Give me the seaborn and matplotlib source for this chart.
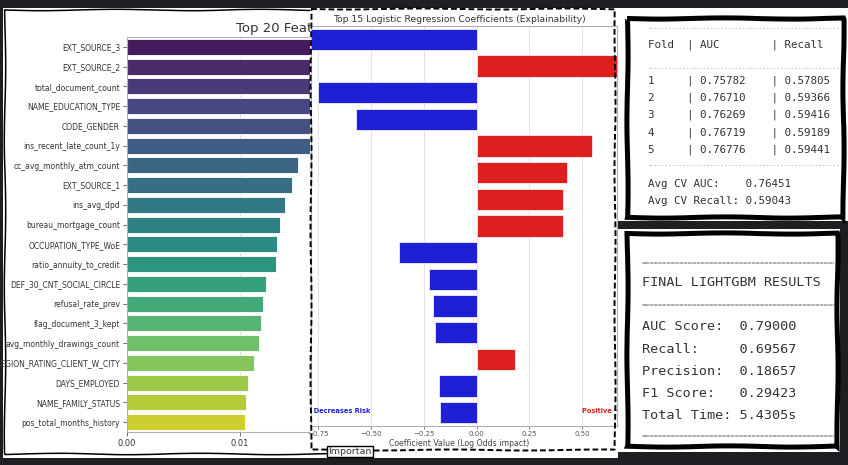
import numpy as np
import pandas as pd
import matplotlib
matplotlib.use("Agg")
import matplotlib.pyplot as plt
import seaborn as sns
from matplotlib.patches import Rectangle

# ---------------- data ----------------
features = ["EXT_SOURCE_3", "EXT_SOURCE_2", "total_document_count", "NAME_EDUCATION_TYPE",
            "CODE_GENDER", "ins_recent_late_count_1y", "cc_avg_monthly_atm_count", "EXT_SOURCE_1",
            "ins_avg_dpd", "bureau_mortgage_count", "OCCUPATION_TYPE_WoE", "ratio_annuity_to_credit",
            "DEF_30_CNT_SOCIAL_CIRCLE", "refusal_rate_prev", "flag_document_3_kept",
            "avg_monthly_drawings_count", "REGION_RATING_CLIENT_W_CITY", "DAYS_EMPLOYED",
            "NAME_FAMILY_STATUS", "pos_total_months_history"]
importance = [0.0262, 0.0231, 0.0204, 0.0188, 0.0176, 0.0168, 0.01516, 0.01463, 0.01398, 0.01354,
              0.01330, 0.01321, 0.01230, 0.01206, 0.01183, 0.01165, 0.01121, 0.01071, 0.01056, 0.01047]
imp_ticks = [0.00, 0.01, 0.02, 0.03]

lr_features = ["EXT_SOURCE_3", "ins_recent_late_count_1y", "EXT_SOURCE_2", "EXT_SOURCE_1",
               "DEF_30_CNT_SOCIAL_CIRCLE", "REGION_RATING_CLIENT_W_CITY", "OCCUPATION_TYPE_WoE",
               "refusal_rate_prev", "NAME_EDUCATION_TYPE", "CODE_GENDER", "DAYS_EMPLOYED",
               "total_document_count", "flag_document_3_kept", "bureau_mortgage_count",
               "pos_total_months_history"]
lr_coefs = [-0.86, 0.74, -0.751, -0.571, 0.549, 0.430, 0.408, 0.408, -0.366, -0.224,
            -0.208, -0.197, 0.182, -0.176, -0.173]
lr_ticks = [-0.75, -0.50, -0.25, 0.00, 0.25, 0.50]

cv_folds = ["1", "2", "3", "4", "5"]
cv_auc = ["0.75782", "0.76710", "0.76269", "0.76719", "0.76776"]
cv_recall = ["0.57805", "0.59366", "0.59416", "0.59189", "0.59441"]
avg_cv_auc = "0.76451"
avg_cv_recall = "0.59043"

final_labels = ["AUC Score:", "Recall:", "Precision:", "F1 Score:", "Total Time:"]
final_values = ["0.79000", "0.69567", "0.18657", "0.29423", "5.4305s"]

# ---------------- style ----------------
W, H = 848, 465
DARK = "#1d1f23"
BLUE = "#1f1fd8"
RED = "#dc1f1f"
TXT = "#333333"
MONO = ["DejaVu Sans Mono"]

sns.set_theme(style="white")
plt.rcParams["font.family"] = ["DejaVu Sans"]

fig = plt.figure(figsize=(W / 100, H / 100), dpi=100)
fig.patch.set_facecolor(DARK)


def px_axes(x0, y0, x1, y1, z):
    return fig.add_axes([x0 / W, 1 - y1 / H, (x1 - x0) / W, (y1 - y0) / H], zorder=z)


def pixel_frame(ax, x0, y0, x1, y1):
    ax.set_xlim(x0, x1)
    ax.set_ylim(y1, y0)
    ax.axis("off")
    ax.patch.set_alpha(0)


# background layer
bg = px_axes(0, 0, W, H, 0)
pixel_frame(bg, 0, 0, W, H)
bg.add_patch(Rectangle((3, 8), 615, 450, fc="white", ec="none"))
bg.add_patch(Rectangle((618, 8), 230, 213, fc="white", ec="none"))
bg.add_patch(Rectangle((618, 229), 222, 223, fc="white", ec="none"))
lb = Rectangle((4.5, 10.5), 330, 443, fc="none", ec="black", lw=1.1)
lb.set_sketch_params(0.7, 160, 2)
bg.add_patch(lb)

# ---------------- left chart: feature importances ----------------
L_X0, L_X1, L_Y0, L_Y1 = 127, 480, 37, 432
ax1 = px_axes(L_X0, L_Y0, L_X1, L_Y1, 1)
df_imp = pd.DataFrame({"feature": features, "importance": importance})
sns.barplot(data=df_imp, x="importance", y="feature", hue="feature", palette="viridis",
            saturation=0.8, legend=False, ax=ax1, edgecolor="white", linewidth=0.6, width=0.8)
ax1.set_xlim(0, (L_X1 - L_X0) / 11300)
ax1.set_ylim(len(features) - 0.5, -0.5)
ax1.set_xticks(imp_ticks)
ax1.set_xticklabels([f"{t:.2f}" for t in imp_ticks])
ax1.grid(axis="x", linestyle="--", color="#d8d8d8", lw=0.7)
ax1.set_axisbelow(True)
for s in ax1.spines.values():
    s.set_color("#b0b0b0")
    s.set_linewidth(0.8)
ax1.tick_params(axis="both", labelsize=5.5, colors="#555555", labelcolor=TXT,
                length=3, width=0.6, pad=2, left=True, bottom=True)
ax1.tick_params(axis="x", labelsize=6)
ax1.set_xlabel("")
ax1.set_ylabel("")
ax1.text((236 - L_X0) / (L_X1 - L_X0), 1 + 9 / (L_Y1 - L_Y0),
         "Top 20 Feature Importances (LightGBM)", transform=ax1.transAxes,
         ha="left", va="center", fontsize=9.5, color=TXT)

# ---------------- middle panel: logistic regression coefficients ----------------
mid_bg = px_axes(0, 0, W, H, 2)
pixel_frame(mid_bg, 0, 0, W, H)
mid_bg.add_patch(Rectangle((310, 9), 307, 442, fc="white", ec="none"))

M_X0, M_X1, M_Y0, M_Y1 = 311, 617, 26, 426
ax2 = px_axes(M_X0, M_Y0, M_X1, M_Y1, 3)
df_lr = pd.DataFrame({"feature": lr_features, "coef": lr_coefs})
df_lr["direction"] = np.where(df_lr["coef"] < 0, "neg", "pos")
sns.barplot(data=df_lr, x="coef", y="feature", hue="direction",
            palette={"neg": BLUE, "pos": RED}, saturation=1, dodge=False, legend=False, ax=ax2,
            edgecolor="white", linewidth=0.5, width=0.8)
zero_px, unit_px = 476.5, 211.0
ax2.set_xlim((M_X0 - zero_px) / unit_px, (M_X1 - zero_px) / unit_px)
ax2.set_ylim(len(lr_features) - 0.5, -0.5)
ax2.set_xticks(lr_ticks)
ax2.set_xticklabels([f"{t:.2f}".replace("-", "\u2212") for t in lr_ticks])
ax2.grid(axis="x", linestyle="-", color="#e4e4e4", lw=0.7)
ax2.set_axisbelow(True)
for s in ax2.spines.values():
    s.set_color("#b0b0b0")
    s.set_linewidth(0.8)
ax2.tick_params(axis="x", labelsize=5, colors="#666666", labelcolor="#555555",
                length=2, width=0.6, pad=1.5, bottom=True)
ax2.tick_params(axis="y", left=False, labelleft=False)
ax2.set_ylabel("")
ax2.set_xlabel("Coefficient Value (Log Odds impact)", fontsize=5.6, color="#444444")
ax2.xaxis.set_label_coords((459 - M_X0) / (M_X1 - M_X0), -0.032)
ax2.text((306 - M_X0) / (M_X1 - M_X0), (M_Y1 - 411) / (M_Y1 - M_Y0), "\u2190 Decreases Risk",
         transform=ax2.transAxes, color=BLUE, fontweight="bold", fontsize=4.8,
         ha="left", va="center", clip_on=True)
ax2.text((582 - M_X0) / (M_X1 - M_X0), (M_Y1 - 411) / (M_Y1 - M_Y0), "Positive \u2192 Increases Risk",
         transform=ax2.transAxes, color=RED, fontweight="bold", fontsize=4.8,
         ha="left", va="center", clip_on=True)
fig.text(459 / W, 1 - 19.5 / H, "Top 15 Logistic Regression Coefficients (Explainability)",
         ha="center", va="center", fontsize=6.7, color=TXT, zorder=3)

# ---------------- right boxes ----------------
top = px_axes(630, 20, 840, 215, 4)
pixel_frame(top, 630, 20, 840, 215)
fs1 = 7.8
dash_kw = dict(fontsize=4.2, color="#7a7a7a", family=MONO, va="center", ha="left", clip_on=True)
txt1_kw = dict(fontsize=fs1, color=TXT, family=MONO, va="center", ha="left", clip_on=True)
top.text(648, 28.3, "-" * 80, **dash_kw)
top.text(648, 45, "Fold  | AUC        | Recall", **txt1_kw)
top.text(648, 68.5, "-" * 80, **dash_kw)
row_y = [80.3, 97.7, 115.0, 132.3, 149.3]
for f, a, r, y in zip(cv_folds, cv_auc, cv_recall, row_y):
    top.text(648, y, f"{f:<6}| {a:<11}| {r}", **txt1_kw)
top.text(648, 165.7, "-" * 80, **dash_kw)
top.text(648, 184.3, f"Avg CV AUC:    {avg_cv_auc}", **txt1_kw)
top.text(648, 201.3, f"Avg CV Recall: {avg_cv_recall}", **txt1_kw)

bot = px_axes(630, 236, 834, 443, 4)
pixel_frame(bot, 630, 236, 834, 443)
fs2 = 9.7
eq_kw = dict(fontsize=5.0, color="#7a7a7a", family=MONO, va="center", ha="left", clip_on=True)
txt2_kw = dict(fontsize=fs2, color=TXT, family=MONO, va="center", ha="left", clip_on=True)
bot.text(641.5, 263.3, "=" * 80, **eq_kw)
bot.text(641.5, 282.3, "FINAL LIGHTGBM RESULTS", **txt2_kw)
bot.text(641.5, 305, "=" * 80, **eq_kw)
final_y = [326.7, 349.0, 371.0, 393.3, 415.0]
for lab, val, y in zip(final_labels, final_values, final_y):
    bot.text(641.5, y, f"{lab:<12}{val}", **txt2_kw)
bot.text(641.5, 436.7, "=" * 80, **eq_kw)

# ---------------- overlay: borders and stray label ----------------
ov = px_axes(0, 0, W, H, 6)
pixel_frame(ov, 0, 0, W, H)
mb = Rectangle((311, 9.5), 304, 440.5, fc="none", ec="black", lw=1.4, ls=(0, (3, 1.5)))
mb.set_sketch_params(0.5, 160, 2)
ov.add_patch(mb)
tb = Rectangle((627, 18), 216, 199, fc="none", ec="black", lw=3.6)
tb.set_sketch_params(0.6, 140, 2)
ov.add_patch(tb)
bb = Rectangle((627, 233), 210, 213, fc="none", ec="black", lw=3.6)
bb.set_sketch_params(0.6, 140, 2)
ov.add_patch(bb)
ov.text(328, 451.5, "Importan", fontsize=6.8, color=TXT, ha="left", va="center",
        bbox=dict(boxstyle="square,pad=0.12", fc="white", ec="black", lw=1.0))

fig.savefig("out.png", dpi=100, facecolor=DARK)
